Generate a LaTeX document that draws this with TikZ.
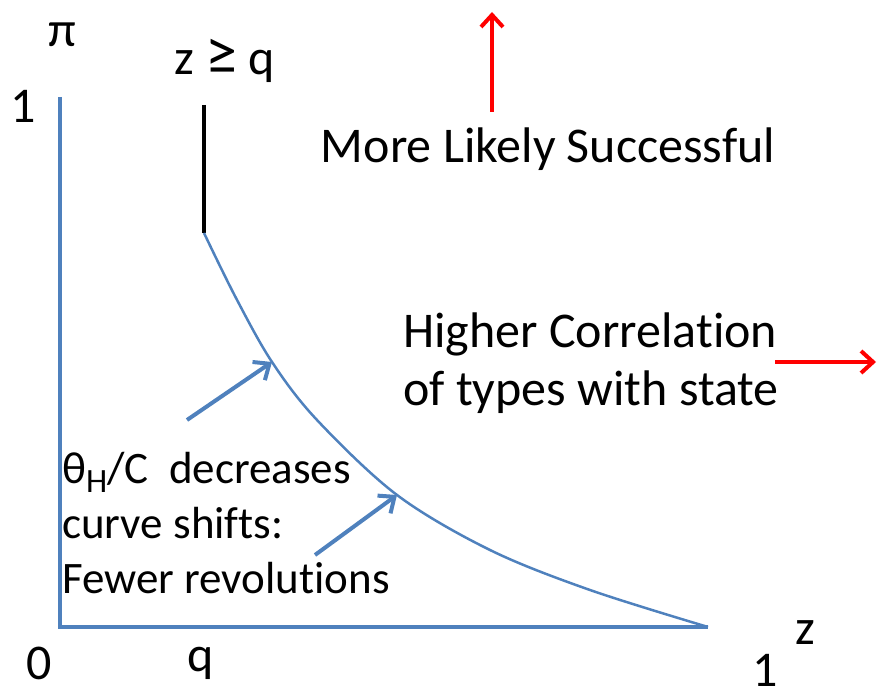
\documentclass[tikz,border=0pt]{standalone}
\usepackage{fontspec}
\setmainfont{Carlito}[Ligatures=NoCommon]
\usetikzlibrary{arrows.meta}
\definecolor{axisblue}{RGB}{79,129,189}

\begin{document}
\begin{tikzpicture}
[
	x=1pt,y=-1pt,
	every node/.style={inner sep=0pt,font=\fontsize{50}{56}\selectfont},
	axis/.style={axisblue,line width=4pt},
	pointer/.style={axisblue,line width=4pt,-{Straight Barb[length=13pt,width=22pt]}},
	trend/.style={red,line width=3.5pt,-{Straight Barb[length=12pt,width=22pt,line width=4pt]}}
]
	\useasboundingbox (0,0) rectangle (879,687);

	% axes
	\draw[axis] (60,97) -- (60,627) -- (708,627);

	% axis labels
	\node[anchor=base] (pi) at (62,47) {π};
	\node[anchor=base] (ytop) at (23,123) {1};
	\node[anchor=base] (zero) at (39,679) {0};
	\node[anchor=base] (q) at (201,671) {q};
	\node[anchor=base] (xend) at (765,686) {1};
	\node[anchor=base] (z) at (805,644) {z};

	% threshold z >= q
	\node[anchor=base] (zq) at (225,75) {z {\fontsize{64}{64}\selectfont≥} q};
	\coordinate (qtop) at (204,105);
	\coordinate (qbot) at (204,233);
	\draw[black,line width=4pt] (qtop) -- (qbot);

	% boundary curve
	\coordinate (hitA) at (272,362);
	\coordinate (hitB) at (397,495);
	\draw[axisblue,line width=2.5pt] plot[smooth,tension=0.55] coordinates {
		(204,233) (236,298) (hitA) (317,420) (hitB) (490,550) (590,590) (708,627)};

	% pointers to the curve
	\coordinate (tailA) at (187,420);
	\coordinate (tailB) at (315,555);
	\draw[pointer] (tailA) -- (hitA);
	\draw[pointer] (tailB) -- (hitB);

	% notes
	\node[anchor=base west,align=left,font=\fontsize{45}{55}\selectfont] (shift) at (62,593)
		{θ{\fontsize{34}{34}\selectfont\raisebox{-9pt}{H}}/C~ decreases\\curve shifts:\\Fewer revolutions};
	\node[anchor=base west,align=left,font=\fontsize{50}{58}\selectfont] (corr) at (403,405)
		{Higher Correlation\\of types with state};
	\node[anchor=base] (succ) at (548,163) {More Likely Successful};

	% direction arrows
	\coordinate (upA) at (492,112);
	\coordinate (upB) at (492,12);
	\draw[trend] (upA) -- (upB);
	\coordinate (rightA) at (775,362);
	\coordinate (rightB) at (876,362);
	\draw[trend] (rightA) -- (rightB);

\end{tikzpicture}
\end{document}
